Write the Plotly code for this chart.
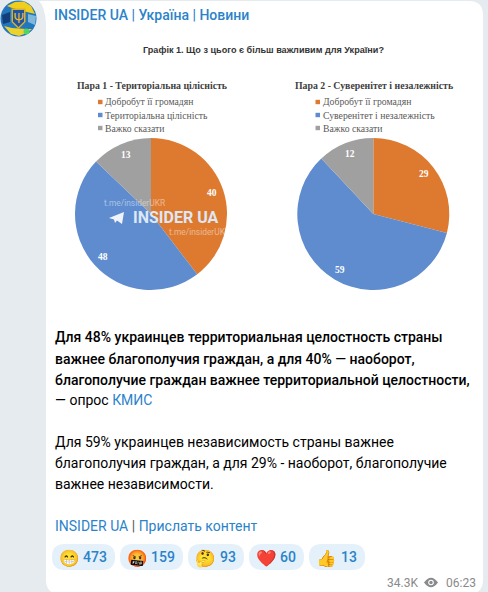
import math
import plotly.graph_objects as go

W, H = 488, 592
labels_a = ["Добробут її громадян", "Територіальна цілісність", "Важко сказати"]
values_a = [40, 48, 13]
labels_b = ["Добробут її громадян", "Суверенітет і незалежність", "Важко сказати"]
values_b = [29, 59, 12]
colors = ["#DD7A2F", "#5E8CCF", "#A0A0A0"]
reactions = [("😁", "473"), ("🤬", "159"), ("🤔", "93"), ("❤️", "60"), ("👍", "13")]

def px(x): return x / W
def py(y): return 1 - y / H

def rr(x0, y0, x1, y1, r):
    P = lambda x, y: f"{px(x):.5f},{py(y):.5f}"
    return (f"M{P(x0+r,y0)} L{P(x1-r,y0)} Q{P(x1,y0)} {P(x1,y0+r)} L{P(x1,y1-r)} Q{P(x1,y1)} {P(x1-r,y1)} "
            f"L{P(x0+r,y1)} Q{P(x0,y1)} {P(x0,y1-r)} L{P(x0,y0+r)} Q{P(x0,y0)} {P(x0+r,y0)} Z")

def poly(pts):
    return "M" + " L".join(f"{px(x):.5f},{py(y):.5f}" for x, y in pts) + " Z"

shapes = []
annots = []

def text(x, y, s, size, color="#000", family="Roboto", anchor="left", opacity=1, weight=None):
    f = dict(size=size, color=color, family=family)
    if weight:
        f["weight"] = weight
    annots.append(dict(x=px(x), y=py(y), xref="paper", yref="paper", text=s, showarrow=False,
                       xanchor=anchor, yanchor="middle", opacity=opacity, font=f,
                       borderpad=0, borderwidth=0))

def path(d, fill, layer="below", opacity=1):
    shapes.append(dict(type="path", xref="paper", yref="paper", path=d, fillcolor=fill,
                       line=dict(width=0), layer=layer, opacity=opacity))

def circle(cx, cy, r, fill, layer="below"):
    shapes.append(dict(type="circle", xref="paper", yref="paper", x0=px(cx-r), x1=px(cx+r),
                       y0=py(cy+r), y1=py(cy-r), fillcolor=fill, line=dict(width=0), layer=layer))

def rect(x0, y0, x1, y1, fill):
    shapes.append(dict(type="rect", xref="paper", yref="paper", x0=px(x0), x1=px(x1),
                       y0=py(y1), y1=py(y0), fillcolor=fill, line=dict(width=0), layer="below"))

# message bubble with its tail at the top left
path(rr(46, 1, 483, 594, 14), "#FFFFFF")
path(f"M{px(39)},{py(1)} Q{px(45)},{py(6)} {px(46)},{py(24)} L{px(60)},{py(24)} L{px(60)},{py(1)} Z", "#FFFFFF")

# avatar
circle(18.5, 18.5, 18, "#2276BE")
path(poly([(7, 6), (15, 2), (24, 1.5), (31, 6), (35, 14), (27, 12), (12, 8)]), "#F0CE1E")
path(poly([(2, 15), (10, 12), (10, 22), (3, 24)]), "#123F7A")
path(poly([(28, 14), (36, 16), (35, 25), (28, 22)]), "#7FB8D8")
path(poly([(4, 26), (12, 28), (26, 29), (32, 29), (27, 33), (19, 36), (11, 34)]), "#EBD22C")
path(poly([(11.5, 8.5), (25.5, 8.5), (25.5, 22), (18.5, 29), (11.5, 22)]), "#D9B02C")
path(poly([(13, 10), (24, 10), (24, 21.5), (18.5, 27), (13, 21.5)]), "#1F55A5")
text(18.5, 17.5, "Ψ", 14, "#E5B92A", "Noto Sans", "center")
circle(26.5, 31.5, 3, "#4FD36B")

LINK = "#2B83C9"
text(54, 15, "INSIDER UA | Україна | Новини", 14, LINK, "Roboto", weight=500)

# chart image texts
text(263, 50, "<b>Графік 1. Що з цього є більш важливим для України?</b>", 9.1, "#333333", "Liberation Sans", "center")
text(151.5, 85.5, "<b>Пара 1 - Територіальна цілісність</b>", 9.8, "#404040", "Liberation Serif", "center")
text(374, 85.5, "<b>Пара 2 - Суверенітет і незалежність</b>", 9.8, "#404040", "Liberation Serif", "center")

for lx, labs in ((98, labels_a), (315.5, labels_b)):
    for i, lab in enumerate(labs):
        y = 102 + i * 13
        rect(lx, y - 2.2, lx + 4.5, y + 2.2, colors[i])
        text(lx + 7, y, lab, 9.7, "#595959", "Liberation Serif")

# body text
text(55, 337, "Для 48% украинцев территориальная целостность страны", 14, weight=500)
text(55, 358.5, "важнее благополучия граждан, а для 40% — наоборот,", 14, weight=500)
text(55, 380, "благополучие граждан важнее территориальной целостности,", 14, weight=500)
text(55, 400, f"— опрос <span style='color:{LINK}'>КМИС</span>", 14)
text(55, 442, "Для 59% украинцев независимость страны важнее", 14)
text(55, 463, "благополучия граждан, а для 29% - наоборот, благополучие", 14)
text(55, 484, "важнее независимости.", 14)
text(55, 526, f"<span style='color:{LINK}'>INSIDER UA</span> <span style='color:#555'>|</span> <span style='color:{LINK}'>Прислать контент</span>", 14)

# reactions
pills = [(52, 115), (120, 183), (188, 244), (249, 304), (309, 365)]
for (x0, x1), (emo, n) in zip(pills, reactions):
    path(rr(x0, 544, x1, 570, 13), "#E4F0FA")
    text(x0 + 17, 557, emo, 16.5, "#F5B52E", "Noto Sans", "center")
    text(x1 - 8, 557, n, 14, LINK, "Roboto", "right", weight=500)

# meta
text(387, 582.5, "34.3K", 12, "#8A8A8A", "Roboto")
path(f"M{px(424)},{py(582.5)} Q{px(431)},{py(573)} {px(438)},{py(582.5)} Q{px(431)},{py(592)} {px(424)},{py(582.5)} Z", "#8A8A8A")
circle(431, 582.5, 2.8, "#FFFFFF")
circle(431, 582.5, 1.7, "#8A8A8A")
text(446, 582.5, "06:23", 12, "#8A8A8A", "Roboto")

def value_labels(values, cx, cy, r):
    """Data labels sit at 0.85 of the radius, on the middle angle of each slice."""
    total = sum(values)
    run = 0
    for v in values:
        a = 2 * math.pi * (run + v / 2) / total
        run += v
        text(cx + 0.85 * r * math.sin(a), cy - 0.85 * r * math.cos(a), f"<b>{v}</b>", 9.5,
             "#FFFFFF", "Liberation Serif", "center")

def pie(values, labels, cx, cy, r):
    return go.Pie(values=values, labels=labels, sort=False, direction="clockwise", rotation=0,
                  marker=dict(colors=colors, line=dict(width=0)), textinfo="none",
                  domain=dict(x=[px(cx - r), px(cx + r)], y=[py(cy + r), py(cy - r)]),
                  showlegend=False, hoverinfo="skip")

value_labels(values_a, 151, 214, 76)
value_labels(values_b, 373.3, 214, 76)

# watermark
text(175.5, 217.5, "<b>INSIDER UA</b>", 16, "#DDE7F5", "Roboto", "center")
text(135, 203, "t.me/insiderUKR", 8.4, "#FFFFFF", "Roboto", "center", 0.45)
text(200, 231.5, "t.me/insiderUKR", 8.4, "#FFFFFF", "Roboto", "center", 0.45)
path(poly([(109, 218), (124, 212), (122, 224), (117, 220.5), (115, 223), (114, 219.5)]), "#FFFFFF", layer="above", opacity=0.9)

fig = go.Figure([pie(values_a, labels_a, 151, 214, 76), pie(values_b, labels_b, 373.3, 214, 76)])
fig.update_layout(width=W, height=H, margin=dict(l=0, r=0, t=0, b=0), autosize=False,
                  paper_bgcolor="#E6EBEF", plot_bgcolor="#E6EBEF", shapes=shapes, annotations=annots)
fig.write_html("out.html", config={"displayModeBar": False},
               post_script="document.body.style.margin='0';document.documentElement.style.overflow='hidden';")
